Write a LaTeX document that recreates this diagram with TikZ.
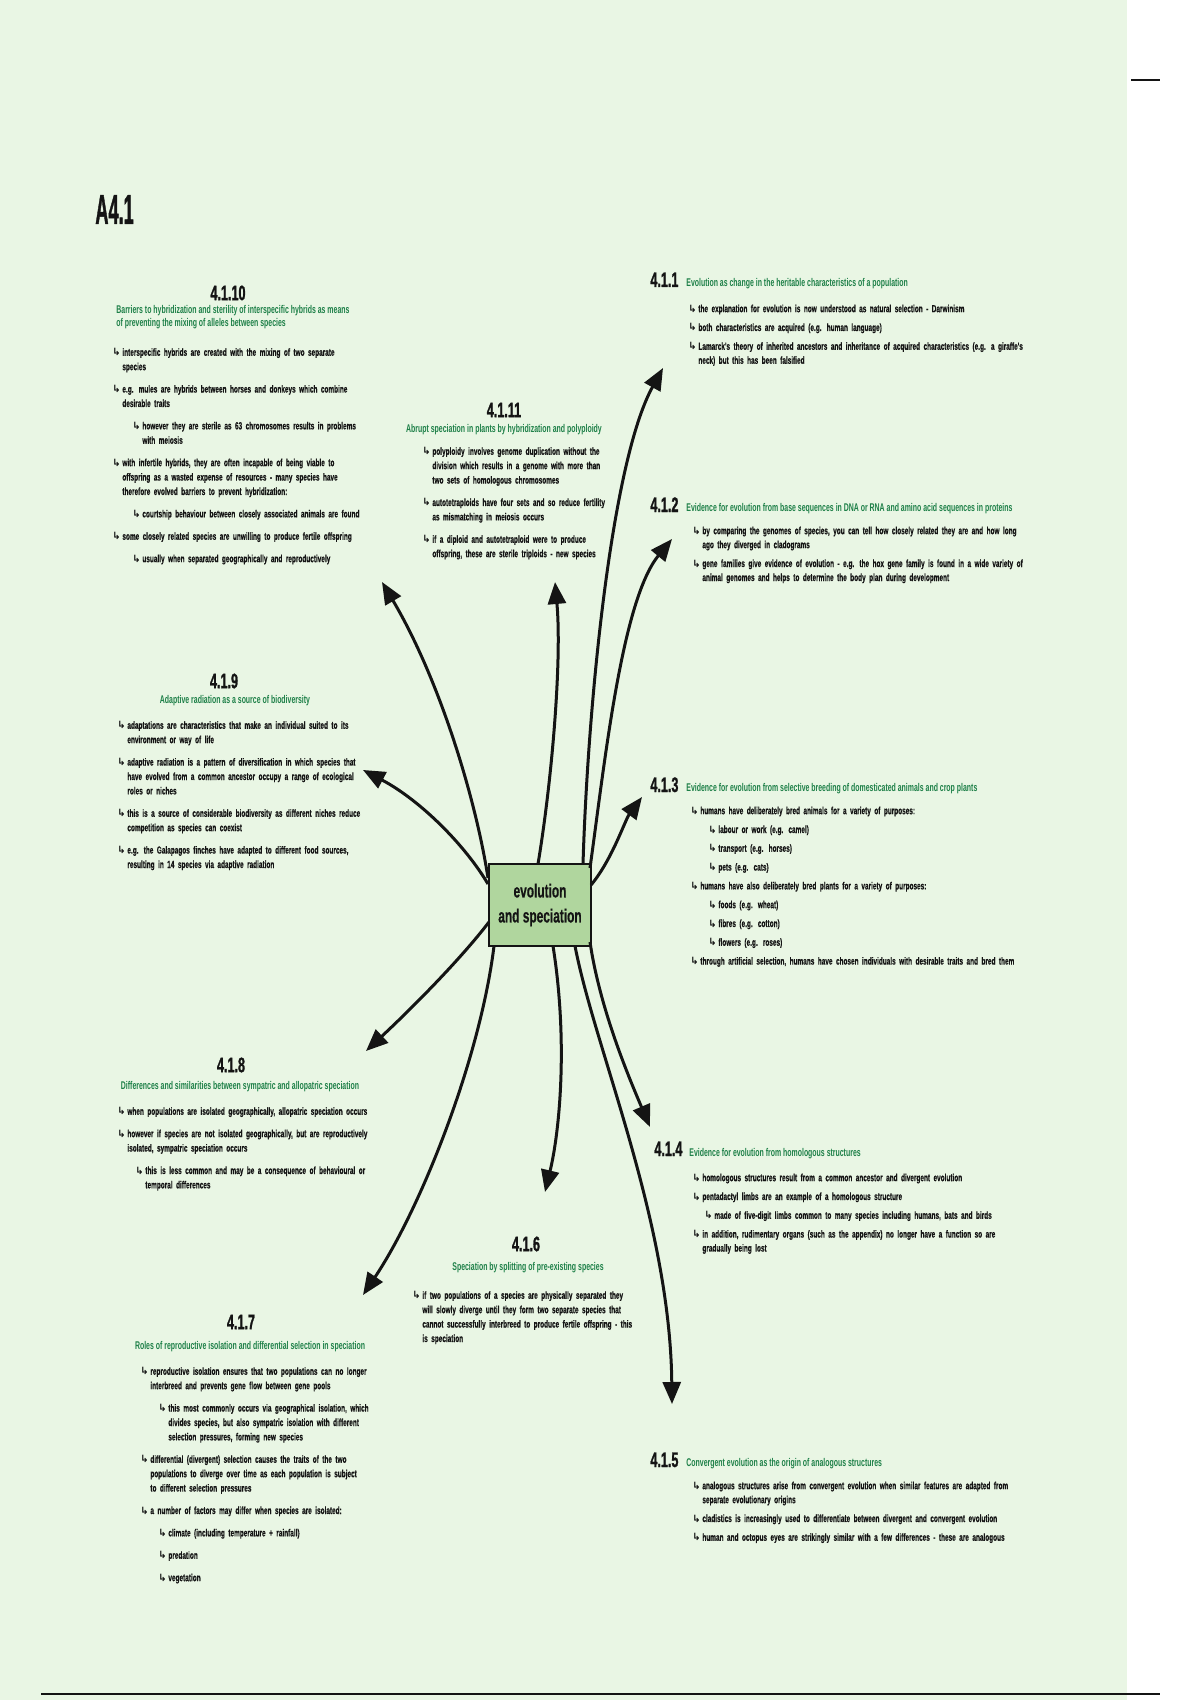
\documentclass[tikz,border=0pt]{standalone}
\usepackage{fontspec}
\setmainfont{Liberation Sans}
\newfontfamily\hand[FakeStretch=0.62,FakeBold=0.4]{Liberation Sans}
\newfontfamily\handS[FakeStretch=0.62]{Liberation Sans}
\newfontfamily\handT[FakeStretch=0.6,FakeBold=1.2]{Liberation Sans}
\newfontfamily\symf{DejaVu Sans}
\usetikzlibrary{arrows.meta}
\definecolor{bg}{RGB}{233,246,228}
\definecolor{subg}{RGB}{30,128,72}
\definecolor{boxg}{RGB}{176,214,158}
\definecolor{ink}{RGB}{20,20,20}
\newlength\itemgap
\setlength\itemgap{2.4pt}
\newcommand\bitem[2][0pt]{\par\vspace{\itemgap}\noindent\hangindent=\dimexpr#1+5pt\relax\hangafter=1\hspace*{#1}\makebox[5pt][l]{\symf\fontsize{5}{5}\selectfont\symbol{"21B3}}#2}
\tikzset{
 ttl/.style={font=\handT\bfseries\fontsize{10.5}{12}\selectfont, text=ink, inner sep=0pt},
 subt/.style={font=\handS\bfseries\fontsize{5.6}{6.6}\selectfont, text=subg, inner sep=0pt, align=left},
 body/.style={font=\hand\bfseries\fontsize{5.2}{7}\selectfont\setlength\itemgap{2.4pt}, text=ink, inner sep=0pt, align=left},
 lbody/.style={font=\hand\bfseries\fontsize{5.2}{7.2}\selectfont\setlength\itemgap{4pt}, text=ink, inner sep=0pt, align=left},
 arr/.style={line width=1.5pt, draw=ink, -{Triangle[length=11pt,width=9pt]}},
}
\begin{document}
\hyphenpenalty=10000 \exhyphenpenalty=10000
\begin{tikzpicture}[x=0.5pt,y=-0.5pt]
\useasboundingbox (0,0) rectangle (1200,1700);
\fill[white] (0,0) rectangle (1200,1700);
\fill[bg] (0,0) rectangle (1127,1700);
\draw[ink, line width=1.2pt] (1131,80) -- (1160,80);
\draw[ink, line width=1.2pt] (41,1694) -- (1160,1694);

% title
\node[ttl, anchor=base west, font=\handT\bfseries\fontsize{21}{24}\selectfont] (a41) at (95,224) {\scalebox{0.72}[1]{A4.1}};

% central box
\node[draw=ink, line width=1.2pt, fill=boxg, minimum width=51pt, minimum height=41pt, inner sep=1pt, font=\hand\bfseries\fontsize{9.6}{12.5}\selectfont, text=ink, align=center] (ev) at (540,905) {evolution\\and speciation};

% 4.1.10
\node[ttl] (t10) at (228,293) {4.1.10};
\node[subt, anchor=north west] (s10) at (116,305) {Barriers to hybridization and sterility of interspecific hybrids as means\\of preventing the mixing of alleles between species};
\node[lbody, anchor=north west, text width=124pt] (b10) at (112,333) {%
\bitem{interspecific hybrids are created with the mixing of two separate species}
\bitem{e.g. mules are hybrids between horses and donkeys which combine desirable traits}
\bitem[10pt]{however they are sterile as 63 chromosomes results in problems with meiosis}
\bitem{with infertile hybrids, they are often incapable of being viable to offspring as a wasted expense of resources - many species have therefore evolved barriers to prevent hybridization:}
\bitem[10pt]{courtship behaviour between closely associated animals are found}
\bitem{some closely related species are unwilling to produce fertile offspring}
\bitem[10pt]{usually when separated geographically and reproductively}\par};

% 4.1.11
\node[ttl] (t11) at (504,410) {4.1.11};
\node[subt, anchor=north, align=center] (s11) at (504,424) {Abrupt speciation in plants by hybridization and polyploidy};
\node[lbody, anchor=north west, text width=92pt] (b11) at (422,432) {%
\bitem{polyploidy involves genome duplication without the division which results in a genome with more than two sets of homologous chromosomes}
\bitem{autotetraploids have four sets and so reduce fertility as mismatching in meiosis occurs}
\bitem{if a diploid and autotetraploid were to produce offspring, these are sterile triploids - new species}\par};

% 4.1.1
\node[ttl, anchor=base west] (t1) at (650,287) {4.1.1};
\node[subt, anchor=base west] (s1) at (686,287) {Evolution as change in the heritable characteristics of a population};
\node[body, anchor=north west, text width=168pt] (b1) at (688,293) {%
\bitem{the explanation for evolution is now understood as natural selection - Darwinism}
\bitem{both characteristics are acquired (e.g. human language)}
\bitem{Lamarck's theory of inherited ancestors and inheritance of acquired characteristics (e.g. a giraffe's neck) but this has been falsified}\par};

% 4.1.2
\node[ttl, anchor=base west] (t2) at (650,512) {4.1.2};
\node[subt, anchor=base west] (s2) at (686,511) {Evidence for evolution from base sequences in DNA or RNA and amino acid sequences in proteins};
\node[body, anchor=north west, text width=166pt] (b2) at (692,515) {%
\bitem{by comparing the genomes of species, you can tell how closely related they are and how long ago they diverged in cladograms}
\bitem{gene families give evidence of evolution - e.g. the hox gene family is found in a wide variety of animal genomes and helps to determine the body plan during development}\par};

% 4.1.3
\node[ttl, anchor=base west] (t3) at (650,792) {4.1.3};
\node[subt, anchor=base west] (s3) at (686,791) {Evidence for evolution from selective breeding of domesticated animals and crop plants};
\node[body, anchor=north west, text width=172pt] (b3) at (690,795) {%
\bitem{humans have deliberately bred animals for a variety of purposes:}
\bitem[9pt]{labour or work (e.g. camel)}
\bitem[9pt]{transport (e.g. horses)}
\bitem[9pt]{pets (e.g. cats)}
\bitem{humans have also deliberately bred plants for a variety of purposes:}
\bitem[9pt]{foods (e.g. wheat)}
\bitem[9pt]{fibres (e.g. cotton)}
\bitem[9pt]{flowers (e.g. roses)}
\bitem{through artificial selection, humans have chosen individuals with desirable traits and bred them}\par};

% 4.1.4
\node[ttl, anchor=base west] (t4) at (654,1156) {4.1.4};
\node[subt, anchor=base west] (s4) at (689,1156) {Evidence for evolution from homologous structures};
\node[body, anchor=north west, text width=165pt] (b4) at (692,1162) {%
\bitem{homologous structures result from a common ancestor and divergent evolution}
\bitem{pentadactyl limbs are an example of a homologous structure}
\bitem[6pt]{made of five-digit limbs common to many species including humans, bats and birds}
\bitem{in addition, rudimentary organs (such as the appendix) no longer have a function so are gradually being lost}\par};

% 4.1.5
\node[ttl, anchor=base west] (t5) at (650,1467) {4.1.5};
\node[subt, anchor=base west] (s5) at (686,1466) {Convergent evolution as the origin of analogous structures};
\node[body, anchor=north west, text width=166pt] (b5) at (692,1470) {%
\bitem{analogous structures arise from convergent evolution when similar features are adapted from separate evolutionary origins}
\bitem{cladistics is increasingly used to differentiate between divergent and convergent evolution}
\bitem{human and octopus eyes are strikingly similar with a few differences - these are analogous}\par};

% 4.1.6
\node[ttl] (t6) at (526,1244) {4.1.6};
\node[subt, anchor=north, align=center] (s6) at (528,1262) {Speciation by splitting of pre-existing species};
\node[lbody, anchor=north west, text width=112pt] (b6) at (412,1276) {%
\bitem{if two populations of a species are physically separated they will slowly diverge until they form two separate species that cannot successfully interbreed to produce fertile offspring - this is speciation}\par};

% 4.1.7
\node[ttl] (t7) at (241,1322) {4.1.7};
\node[subt, anchor=north, align=center] (s7) at (250,1341) {Roles of reproductive isolation and differential selection in speciation};
\node[lbody, anchor=north west, text width=118pt] (b7) at (140,1352) {%
\bitem{reproductive isolation ensures that two populations can no longer interbreed and prevents gene flow between gene pools}
\bitem[9pt]{this most commonly occurs via geographical isolation, which divides species, but also sympatric isolation with different selection pressures, forming new species}
\bitem{differential (divergent) selection causes the traits of the two populations to diverge over time as each population is subject to different selection pressures}
\bitem{a number of factors may differ when species are isolated:}
\bitem[9pt]{climate (including temperature + rainfall)}
\bitem[9pt]{predation}
\bitem[9pt]{vegetation}\par};

% 4.1.8
\node[ttl] (t8) at (231,1065) {4.1.8};
\node[subt, anchor=north, align=center] (s8) at (240,1081) {Differences and similarities between sympatric and allopatric speciation};
\node[lbody, anchor=north west, text width=128pt] (b8) at (117,1092) {%
\bitem{when populations are isolated geographically, allopatric speciation occurs}
\bitem{however if species are not isolated geographically, but are reproductively isolated, sympatric speciation occurs}
\bitem[9pt]{this is less common and may be a consequence of behavioural or temporal differences}\par};

% 4.1.9
\node[ttl] (t9) at (224,681) {4.1.9};
\node[subt, anchor=north, align=center] (s9) at (235,695) {Adaptive radiation as a source of biodiversity};
\node[lbody, anchor=north west, text width=124pt] (b9) at (117,706) {%
\bitem{adaptations are characteristics that make an individual suited to its environment or way of life}
\bitem{adaptive radiation is a pattern of diversification in which species that have evolved from a common ancestor occupy a range of ecological roles or niches}
\bitem{this is a source of considerable biodiversity as different niches reduce competition as species can coexist}
\bitem{e.g. the Galapagos finches have adapted to different food sources, resulting in 14 species via adaptive radiation}\par};

% connector ends
\coordinate (sA) at (488,878); \coordinate (p10) at (382,582);
\coordinate (sB) at (538,864); \coordinate (p11) at (555,582);
\coordinate (sC) at (583,864); \coordinate (p1) at (663,368);
\coordinate (sD) at (590,868); \coordinate (p2) at (672,539);
\coordinate (sE) at (591,885); \coordinate (p3) at (642,797);
\coordinate (sF) at (590,942); \coordinate (p4) at (650,1127);
\coordinate (sG) at (575,946); \coordinate (p5) at (672,1404);
\coordinate (sH) at (553,946); \coordinate (p6) at (545,1192);
\coordinate (sI) at (494,946); \coordinate (p7) at (363,1295);
\coordinate (sJ) at (489,922); \coordinate (p8) at (366,1051);
\coordinate (sK) at (488,884); \coordinate (p9) at (363,770);

\draw[arr] (sA) .. controls (476,800) and (440,680) .. (p10);
\draw[arr] (sB) .. controls (552,780) and (562,660) .. (p11);
\draw[arr] (sC) .. controls (588,700) and (612,460) .. (p1);
\draw[arr] (sD) .. controls (605,760) and (622,600) .. (p2);
\draw[arr] (sE) .. controls (612,860) and (625,820) .. (p3);
\draw[arr] (sF) .. controls (600,1010) and (630,1080) .. (p4);
\draw[arr] (sG) .. controls (595,1050) and (670,1220) .. (p5);
\draw[arr] (sH) .. controls (568,1040) and (560,1130) .. (p6);
\draw[arr] (sI) .. controls (480,1060) and (420,1210) .. (p7);
\draw[arr] (sJ) .. controls (460,960) and (410,1010) .. (p8);
\draw[arr] (sK) .. controls (465,845) and (420,800) .. (p9);
\end{tikzpicture}
\end{document}
